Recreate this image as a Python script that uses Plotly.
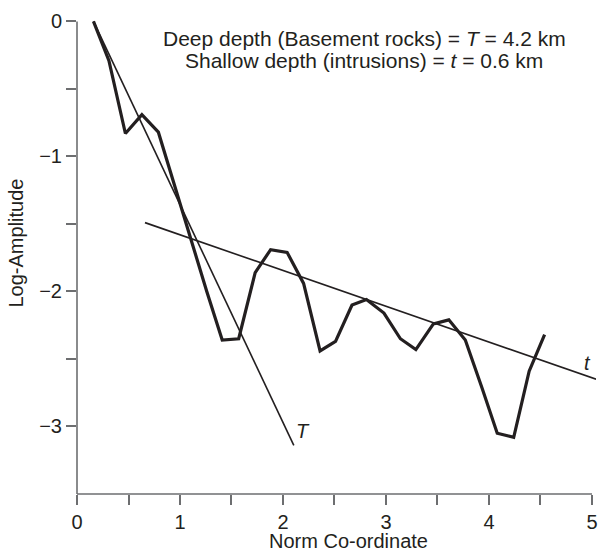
import plotly.graph_objects as go

# Observed spectrum (thick line)
norm_coord = [0.16, 0.31, 0.47, 0.63, 0.79, 0.94, 1.10, 1.26, 1.41, 1.57, 1.73, 1.88,
              2.04, 2.20, 2.36, 2.51, 2.67, 2.81, 2.98, 3.14, 3.29, 3.46, 3.61, 3.77,
              3.93, 4.08, 4.24, 4.39, 4.54]
log_amp = [0.0, -0.29, -0.83, -0.69, -0.82, -1.20, -1.59, -2.00, -2.36, -2.35, -1.86, -1.69,
           -1.71, -1.94, -2.44, -2.37, -2.10, -2.06, -2.16, -2.35, -2.43, -2.24, -2.21, -2.36,
           -2.71, -3.05, -3.08, -2.59, -2.32]

# Fitted lines
deep_x = [0.16, 2.105]
deep_y = [0.0, -3.14]
shallow_x = [0.66, 5.04]
shallow_y = [-1.49, -2.65]

x_ticks = [0, 0.5, 1, 1.5, 2, 2.5, 3, 3.5, 4, 4.5, 5]
x_labels = ["0", "", "1", "", "2", "", "3", "", "4", "", "5"]
y_ticks = [0, -0.5, -1, -1.5, -2, -2.5, -3]
y_labels = ["0", "", "\u22121", "", "\u22122", "", "\u22123"]

ink = "#231f20"
axis_col = "#6d6e70"
font = "Liberation Sans, Arial, Helvetica, sans-serif"

fig = go.Figure()
fig.add_trace(go.Scatter(x=deep_x, y=deep_y, mode="lines",
                         line=dict(color=ink, width=1.6), showlegend=False))
fig.add_trace(go.Scatter(x=shallow_x, y=shallow_y, mode="lines",
                         line=dict(color=ink, width=1.6), showlegend=False))
fig.add_trace(go.Scatter(x=norm_coord, y=log_amp, mode="lines",
                         line=dict(color=ink, width=3.2), showlegend=False))

# axis lines drawn so they stop at x=5 and y=0
fig.add_shape(type="line", xref="x", yref="paper", x0=0, x1=5, y0=0, y1=0,
              line=dict(color=axis_col, width=1.6))
fig.add_shape(type="line", xref="paper", yref="y", x0=0, x1=0, y0=-3.5, y1=0,
              line=dict(color=axis_col, width=1.6))

fig.add_annotation(x=2.787, y=-0.125, xref="x", yref="y", showarrow=False, borderpad=0,
                   text="Deep depth (Basement rocks) = <i>T</i> = 4.2 km",
                   font=dict(family=font, size=21, color=ink), xanchor="center", yanchor="middle")
fig.add_annotation(x=2.787, y=-0.29, xref="x", yref="y", showarrow=False, borderpad=0,
                   text="Shallow depth (intrusions) = <i>t</i> = 0.6 km",
                   font=dict(family=font, size=21, color=ink), xanchor="center", yanchor="middle")
fig.add_annotation(x=2.19, y=-3.03, xref="x", yref="y", showarrow=False, text="<i>T</i>",
                   font=dict(family=font, size=20, color=ink))
fig.add_annotation(x=4.96, y=-2.53, xref="x", yref="y", showarrow=False, text="<i>t</i>",
                   font=dict(family=font, size=20, color=ink))

# axis titles
fig.add_annotation(x=(349.5 - 77) / 521, y=(494 - 541) / 477, xref="paper", yref="paper",
                   xanchor="center", yanchor="middle", showarrow=False, borderpad=0,
                   text="Norm Co-ordinate", font=dict(family=font, size=20, color=ink))
fig.add_annotation(x=0, y=0.5, xref="paper", yref="paper", xanchor="center", yanchor="middle",
                   showarrow=False, text="Log-Amplitude", textangle=-90, borderpad=0,
                   font=dict(family=font, size=20, color=ink), xshift=-62, yshift=12)

fig.update_xaxes(range=[0, 5.039], tickmode="array", tickvals=x_ticks, ticktext=x_labels,
                 ticks="outside", ticklen=10, tickwidth=1.6, tickcolor=axis_col,
                 showline=False, showgrid=False, zeroline=False, ticklabeloverflow="allow",
                 tickfont=dict(family=font, size=20, color=ink))
fig.update_yaxes(range=[-3.5, 0.033], tickmode="array", tickvals=y_ticks, ticktext=y_labels,
                 ticks="outside", ticklen=10, tickwidth=1.6, tickcolor=axis_col,
                 showline=False, showgrid=False, zeroline=False, ticklabeloverflow="allow",
                 tickfont=dict(family=font, size=20, color=ink))

fig.update_layout(width=599, height=551, margin=dict(l=77, r=1, t=17, b=57),
                  paper_bgcolor="white", plot_bgcolor="white", showlegend=False)

fig.write_html("out.html")
